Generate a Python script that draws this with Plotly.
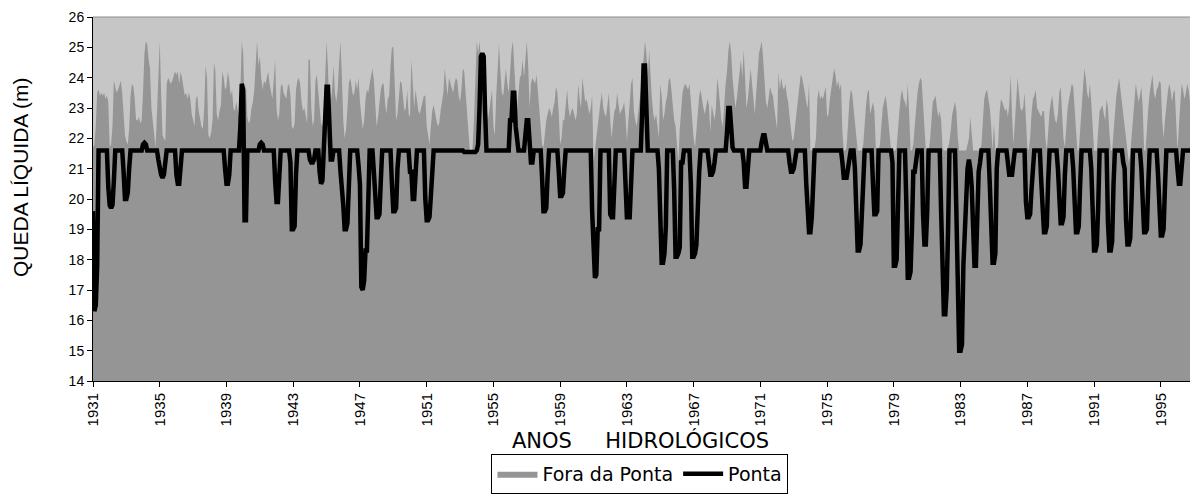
import plotly.graph_objects as go

# Monthly net head (m) by hydrological year, Jan..Dec rows, 1931 to Oct 1996
START_YEAR = 1931

FORA_DA_PONTA = [
    21.7, 21.8, 22.4, 23.5, 23.6, 23.4, 23.5, 23.4, 23.5, 23.3, 23.4, 23.2,  # 1931
    21.7, 21.8, 22.4, 23.9, 23.7, 23.5, 23.6, 23.8, 23.9, 23.5, 22.6, 22.1,  # 1932
    21.9, 21.8, 22.3, 23.4, 23.8, 23.7, 23.3, 22.6, 22.6, 22.7, 22.5, 22.6,  # 1933
    23.5, 24.8, 25.2, 25.1, 24.6, 24.3, 23.0, 22.5, 22.0, 21.7, 22.8, 24.0,  # 1934
    25.2, 23.5, 22.1, 22.0, 21.9, 23.8, 24.0, 23.9, 23.8, 23.9, 24.1, 24.2,  # 1935
    24.1, 24.2, 23.8, 24.2, 24.0, 23.6, 23.4, 23.5, 23.3, 23.5, 23.3, 22.8,  # 1936
    22.6, 22.4, 23.3, 23.4, 22.9, 22.6, 22.4, 22.3, 23.0, 24.4, 24.0, 22.1,  # 1937
    22.0, 22.2, 22.6, 24.5, 24.2, 22.8, 22.6, 22.9, 23.1, 24.2, 24.0, 23.6,  # 1938
    23.7, 24.2, 23.9, 23.4, 23.6, 23.0, 22.9, 23.2, 22.9, 22.7, 23.5, 25.2,  # 1939
    24.8, 23.0, 23.8, 22.7, 22.5, 22.6, 23.0, 23.2, 23.6, 24.6, 25.2, 24.4,  # 1940
    24.7, 24.0, 23.6, 23.9, 23.8, 24.0, 24.2, 23.8, 23.6, 23.3, 23.9, 24.6,  # 1941
    23.0, 22.6, 22.8, 23.7, 23.8, 23.5, 23.4, 23.3, 23.7, 23.8, 23.4, 22.4,  # 1942
    22.3, 22.5, 23.6, 23.9, 24.0, 23.8, 23.2, 22.9, 23.0, 22.8, 22.5, 24.6,  # 1943
    24.6, 23.0, 22.4, 22.6, 23.9, 24.1, 23.4, 23.0, 22.5, 22.4, 22.9, 24.2,  # 1944
    25.2, 24.3, 22.9, 23.2, 23.6, 24.4, 23.5, 23.2, 23.6, 24.5, 25.2, 24.0,  # 1945
    22.6, 22.0, 22.3, 23.0, 23.8, 24.0, 23.6, 23.4, 23.5, 23.9, 23.6, 24.0,  # 1946
    23.2, 22.6, 22.3, 22.6, 23.3, 23.6, 23.5, 23.8, 24.1, 24.3, 23.9, 23.0,  # 1947
    22.4, 22.7, 23.2, 23.6, 23.8, 23.8, 23.2, 22.8, 23.3, 23.4, 24.4, 25.0,  # 1948
    25.0, 23.5, 22.6, 22.8, 23.4, 23.9, 23.8, 23.2, 22.9, 23.0, 23.6, 22.8,  # 1949
    22.7, 24.6, 23.6, 23.0, 23.6, 23.2, 22.9, 22.8, 23.0, 23.2, 23.4, 23.4,  # 1950
    22.4, 22.1, 21.8, 22.4, 22.9, 23.1, 22.8, 22.6, 22.4, 22.5, 22.9, 23.2,  # 1951
    23.5, 24.3, 23.8, 23.4, 24.0, 23.8, 23.6, 23.5, 23.8, 24.0, 23.9, 23.4,  # 1952
    23.2, 23.6, 24.3, 24.2, 23.5, 22.8, 22.0, 21.6, 21.5, 21.7, 22.6, 24.0,  # 1953
    25.2, 24.8, 25.2, 24.6, 23.6, 23.0, 23.4, 23.0, 22.6, 22.9, 23.2, 23.6,  # 1954
    22.4, 22.1, 23.4, 24.5, 25.1, 24.2, 23.5, 23.4, 23.9, 24.3, 23.8, 23.5,  # 1955
    24.2, 24.9, 25.2, 24.3, 23.5, 23.0, 23.5, 24.0, 24.1, 24.6, 24.0, 24.8,  # 1956
    25.2, 24.4, 23.0, 23.8, 24.0, 23.9, 23.8, 24.1, 23.5, 23.0, 22.6, 21.8,  # 1957
    21.7, 22.2, 22.6, 22.8, 23.0, 22.9, 22.7, 23.0, 23.2, 23.7, 23.5, 22.8,  # 1958
    21.8, 22.0, 22.6, 22.6, 23.0, 23.6, 23.0, 22.7, 22.9, 23.0, 22.8, 22.6,  # 1959
    22.8, 23.8, 23.3, 23.0, 24.0, 23.6, 23.2, 23.3, 23.0, 22.8, 23.0, 23.4,  # 1960
    21.2, 21.6, 22.0, 22.6, 22.9, 23.2, 23.5, 23.0, 22.8, 22.7, 23.1, 23.5,  # 1961
    22.6, 22.0, 22.5, 22.9, 23.0, 23.5, 23.1, 22.8, 22.9, 23.0, 23.2, 22.7,  # 1962
    21.9, 22.6, 23.0, 23.8, 24.0, 22.9, 22.6, 22.4, 22.8, 23.3, 23.6, 24.0,  # 1963
    24.6, 25.2, 24.8, 24.0, 24.9, 23.9, 23.3, 22.8, 22.6, 22.8, 22.4, 22.0,  # 1964
    23.8, 23.4, 22.6, 22.8, 23.2, 23.4, 23.9, 24.0, 23.6, 23.0, 22.6, 22.4,  # 1965
    21.6, 21.2, 22.3, 23.0, 23.5, 23.7, 23.8, 23.7, 23.6, 23.8, 23.2, 22.4,  # 1966
    22.0, 21.7, 22.3, 22.8, 23.4, 23.6, 23.2, 23.0, 22.8, 23.0, 23.3, 23.1,  # 1967
    22.2, 23.1, 22.8, 22.6, 23.0, 24.0, 23.6, 23.0, 22.6, 22.4, 23.2, 23.8,  # 1968
    24.2, 24.9, 25.2, 24.8, 24.0, 23.4, 23.0, 23.3, 23.8, 24.3, 24.6, 24.0,  # 1969
    24.9, 24.0, 23.0, 23.3, 23.8, 24.3, 23.8, 23.3, 22.8, 23.5, 24.2, 24.8,  # 1970
    25.0, 25.2, 24.6, 24.0, 23.2, 23.0, 23.3, 23.7, 23.5, 23.4, 23.0, 22.6,  # 1971
    22.3, 24.2, 23.6, 24.0, 23.7, 23.6, 23.8, 23.4, 23.2, 22.7, 22.2, 21.9,  # 1972
    22.0, 22.4, 22.8, 23.3, 23.8, 24.1, 24.0, 23.8, 23.5, 23.2, 23.0, 23.8,  # 1973
    21.6, 21.6, 21.6, 21.7, 22.0, 23.3, 23.6, 23.3, 23.4, 23.3, 23.5, 23.7,  # 1974
    22.7, 22.8, 23.3, 23.6, 24.0, 24.3, 24.1, 23.7, 23.9, 23.6, 23.8, 22.2,  # 1975
    21.6, 21.6, 21.7, 22.5, 23.2, 23.6, 23.5, 23.0, 22.5, 22.0, 21.6, 21.6,  # 1976
    21.6, 21.6, 21.8, 22.6, 23.1, 23.5, 23.6, 22.8, 23.0, 23.2, 22.9, 21.7,  # 1977
    21.6, 21.6, 21.8, 22.6, 23.0, 23.2, 23.4, 23.1, 22.6, 22.0, 21.6, 21.6,  # 1978
    21.6, 21.6, 21.7, 22.4, 22.9, 23.4, 23.6, 23.3, 23.2, 23.0, 23.8, 22.8,  # 1979
    21.6, 21.6, 21.8, 22.4, 23.0, 23.5, 23.8, 24.0, 23.9, 23.2, 22.3, 21.6,  # 1980
    21.6, 21.6, 21.9, 22.5, 23.2, 23.3, 23.4, 23.0, 22.7, 22.9, 22.6, 21.7,  # 1981
    21.6, 21.6, 21.6, 21.7, 21.9, 22.3, 22.8, 23.0, 23.2, 22.9, 22.0, 21.6,  # 1982
    21.6, 21.6, 21.6, 21.6, 21.6, 21.8, 22.0, 22.7, 22.0, 21.6, 21.6, 21.6,  # 1983
    21.6, 21.6, 21.6, 21.8, 22.6, 23.3, 23.5, 23.6, 23.3, 23.0, 22.4, 21.6,  # 1984
    22.5, 21.6, 21.6, 21.8, 22.8, 23.3, 23.2, 23.0, 22.9, 23.0, 22.7, 23.1,  # 1985
    24.1, 22.8, 21.8, 22.5, 23.5, 24.0, 23.5, 23.0, 22.9, 23.0, 23.5, 22.6,  # 1986
    21.7, 21.6, 22.0, 22.8, 23.3, 23.4, 23.6, 23.0, 22.9, 22.8, 22.7, 22.9,  # 1987
    22.9, 22.0, 21.6, 22.2, 22.9, 23.2, 23.4, 22.9, 22.6, 22.5, 22.8, 23.5,  # 1988
    23.7, 22.8, 22.0, 21.7, 22.4, 23.0, 23.3, 23.6, 23.8, 23.7, 23.0, 22.2,  # 1989
    21.6, 21.6, 22.3, 23.0, 23.8, 24.3, 24.0, 23.5, 23.3, 23.8, 23.2, 22.4,  # 1990
    21.6, 21.6, 21.6, 22.3, 22.9, 23.0, 23.1, 22.8, 22.6, 23.3, 23.0, 22.2,  # 1991
    21.6, 21.6, 22.2, 22.9, 23.4, 23.7, 24.0, 23.6, 23.2, 22.8, 22.4, 21.8,  # 1992
    21.4, 21.2, 21.5, 22.0, 22.6, 23.2, 23.8, 23.4, 23.2, 23.4, 23.7, 23.0,  # 1993
    21.6, 21.6, 22.4, 23.0, 23.5, 23.9, 24.1, 23.5, 23.3, 23.6, 23.7, 23.9,  # 1994
    23.8, 22.6, 22.0, 22.6, 23.2, 23.5, 23.8, 23.6, 23.2, 23.5, 23.6, 22.6,  # 1995
    21.6, 22.4, 23.2, 23.8, 23.6, 23.3, 23.5, 23.8, 23.6, 23.2,              # 1996
]

PONTA = [
    19.6, 16.3, 16.5, 17.8, 21.6, 21.6, 21.6, 21.6, 21.6, 21.6, 21.6, 20.4,  # 1931
    19.8, 19.7, 19.8, 20.6, 21.6, 21.6, 21.6, 21.6, 21.6, 21.6, 20.9, 20.0,  # 1932
    20.0, 20.2, 21.0, 21.6, 21.6, 21.6, 21.6, 21.6, 21.6, 21.6, 21.6, 21.6,  # 1933
    21.8, 21.85, 21.8, 21.6, 21.6, 21.6, 21.6, 21.6, 21.6, 21.6, 21.6, 21.3,  # 1934
    21.0, 20.8, 20.7, 20.8, 21.2, 21.6, 21.6, 21.6, 21.6, 21.6, 21.6, 21.6,  # 1935
    20.8, 20.5, 20.5, 21.0, 21.6, 21.6, 21.6, 21.6, 21.6, 21.6, 21.6, 21.6,  # 1936
    21.6, 21.6, 21.6, 21.6, 21.6, 21.6, 21.6, 21.6, 21.6, 21.6, 21.6, 21.6,  # 1937
    21.6, 21.6, 21.6, 21.6, 21.6, 21.6, 21.6, 21.6, 21.6, 21.6, 21.6, 21.0,  # 1938
    20.5, 20.5, 20.8, 21.6, 21.6, 21.6, 21.6, 21.6, 21.6, 21.6, 22.4, 23.8,  # 1939
    23.6, 19.3, 19.3, 21.6, 21.6, 21.6, 21.6, 21.6, 21.6, 21.6, 21.6, 21.6,  # 1940
    21.8, 21.85, 21.8, 21.6, 21.6, 21.6, 21.6, 21.6, 21.6, 21.6, 21.6, 20.6,  # 1941
    19.9, 19.9, 20.9, 21.6, 21.6, 21.6, 21.6, 21.6, 21.6, 21.6, 21.2, 19.0,  # 1942
    19.0, 19.1, 20.8, 21.6, 21.6, 21.6, 21.6, 21.6, 21.6, 21.6, 21.6, 21.6,  # 1943
    21.3, 21.2, 21.2, 21.3, 21.6, 21.6, 21.6, 20.9, 20.5, 20.6, 21.6, 22.6,  # 1944
    23.7, 23.7, 22.6, 21.3, 21.3, 21.6, 21.6, 21.6, 21.6, 21.6, 20.9, 20.5,  # 1945
    19.8, 19.0, 19.0, 19.2, 20.5, 21.6, 21.6, 21.6, 21.6, 21.6, 21.6, 21.1,  # 1946
    20.5, 17.1, 17.0, 17.3, 18.3, 18.3, 20.5, 21.6, 21.6, 21.6, 20.9, 20.1,  # 1947
    19.4, 19.4, 19.5, 20.6, 21.6, 21.6, 21.6, 21.6, 21.6, 21.6, 21.6, 20.5,  # 1948
    19.6, 19.6, 19.7, 21.0, 21.6, 21.6, 21.6, 21.6, 21.6, 21.6, 21.6, 21.6,  # 1949
    20.9, 20.9, 20.0, 20.0, 20.8, 21.6, 21.6, 21.6, 21.6, 21.6, 21.6, 20.0,  # 1950
    19.3, 19.3, 19.4, 20.1, 21.0, 21.6, 21.6, 21.6, 21.6, 21.6, 21.6, 21.6,  # 1951
    21.6, 21.6, 21.6, 21.6, 21.6, 21.6, 21.6, 21.6, 21.6, 21.6, 21.6, 21.6,  # 1952
    21.6, 21.6, 21.6, 21.55, 21.55, 21.55, 21.55, 21.55, 21.55, 21.55, 21.55, 21.55,  # 1953
    21.6, 21.8, 23.0, 24.7, 24.8, 24.7, 22.9, 21.6, 21.6, 21.6, 21.6, 21.6,  # 1954
    21.6, 21.6, 21.6, 21.6, 21.6, 21.6, 21.6, 21.6, 21.6, 21.6, 21.6, 21.6,  # 1955
    22.6, 22.6, 23.5, 23.5, 22.4, 21.8, 21.6, 21.6, 21.6, 21.6, 21.6, 22.1,  # 1956
    22.6, 22.6, 21.9, 21.2, 21.2, 21.6, 21.6, 21.6, 21.6, 21.6, 21.6, 20.7,  # 1957
    19.6, 19.6, 19.7, 20.8, 21.6, 21.6, 21.6, 21.6, 21.6, 21.6, 21.6, 20.9,  # 1958
    20.1, 20.1, 20.2, 21.0, 21.6, 21.6, 21.6, 21.6, 21.6, 21.6, 21.6, 21.6,  # 1959
    21.6, 21.6, 21.6, 21.6, 21.6, 21.6, 21.6, 21.6, 21.6, 21.6, 21.6, 19.6,  # 1960
    17.8, 17.4, 17.5, 19.0, 19.0, 21.6, 21.6, 21.6, 21.6, 21.6, 21.6, 21.6,  # 1961
    19.5, 19.4, 19.4, 20.6, 21.6, 21.6, 21.6, 21.6, 21.6, 21.6, 21.6, 20.5,  # 1962
    19.4, 19.4, 19.4, 20.5, 21.6, 21.6, 21.6, 21.6, 21.6, 21.6, 21.6, 22.9,  # 1963
    24.4, 24.4, 23.0, 21.6, 21.6, 21.6, 21.6, 21.6, 21.6, 21.6, 21.6, 21.0,  # 1964
    19.1, 17.9, 17.9, 18.2, 19.1, 21.6, 21.6, 21.6, 21.6, 21.6, 20.3, 18.1,  # 1965
    18.1, 18.2, 18.4, 21.2, 21.2, 21.6, 21.6, 21.6, 21.6, 21.6, 20.5, 18.1,  # 1966
    18.1, 18.2, 18.5, 20.4, 20.9, 21.6, 21.6, 21.6, 21.6, 21.6, 21.6, 21.2,  # 1967
    20.8, 20.8, 20.9, 21.2, 21.6, 21.6, 21.6, 21.6, 21.6, 21.6, 21.6, 21.6,  # 1968
    22.2, 23.0, 23.0, 22.2, 21.7, 21.6, 21.6, 21.6, 21.6, 21.6, 21.6, 21.6,  # 1969
    21.2, 20.4, 20.4, 21.0, 21.6, 21.6, 21.6, 21.6, 21.6, 21.6, 21.6, 21.6,  # 1970
    21.6, 21.9, 22.1, 22.1, 21.8, 21.6, 21.6, 21.6, 21.6, 21.6, 21.6, 21.6,  # 1971
    21.6, 21.6, 21.6, 21.6, 21.6, 21.6, 21.6, 21.6, 21.6, 21.2, 20.9, 20.9,  # 1972
    21.0, 21.3, 21.6, 21.6, 21.6, 21.6, 21.6, 21.6, 21.6, 20.5, 19.5, 18.9,  # 1973
    18.9, 19.4, 20.5, 21.6, 21.6, 21.6, 21.6, 21.6, 21.6, 21.6, 21.6, 21.6,  # 1974
    21.6, 21.6, 21.6, 21.6, 21.6, 21.6, 21.6, 21.6, 21.6, 21.6, 21.6, 21.2,  # 1975
    20.7, 20.7, 20.7, 21.0, 21.3, 21.6, 21.6, 21.6, 21.0, 19.0, 18.3, 18.3,  # 1976
    18.5, 19.5, 21.0, 21.6, 21.6, 21.6, 21.6, 21.6, 21.6, 20.5, 19.5, 19.5,  # 1977
    19.6, 21.6, 21.6, 21.6, 21.6, 21.6, 21.6, 21.6, 21.6, 21.6, 21.6, 21.2,  # 1978
    17.8, 17.8, 18.0, 19.8, 21.6, 21.6, 21.6, 21.6, 21.6, 19.8, 17.4, 17.4,  # 1979
    17.6, 19.0, 20.9, 20.9, 21.2, 21.6, 21.6, 21.6, 21.6, 19.5, 18.5, 18.5,  # 1980
    19.6, 21.6, 21.6, 21.6, 21.6, 21.6, 21.6, 21.6, 21.6, 21.6, 19.6, 17.5,  # 1981
    16.2, 16.2, 17.0, 19.0, 21.6, 21.6, 21.6, 21.6, 21.6, 19.5, 17.8, 15.0,  # 1982
    15.0, 15.2, 17.8, 18.9, 20.2, 21.0, 21.3, 21.0, 20.4, 19.0, 17.8, 17.8,  # 1983
    19.5, 20.9, 21.2, 21.6, 21.6, 21.6, 21.6, 21.6, 21.6, 20.5, 19.0, 17.9,  # 1984
    17.9, 18.2, 21.0, 21.6, 21.6, 21.6, 21.6, 21.6, 21.6, 21.6, 21.2, 20.8,  # 1985
    20.8, 20.8, 21.2, 21.6, 21.6, 21.6, 21.6, 21.6, 21.6, 21.6, 21.6, 19.9,  # 1986
    19.4, 19.4, 19.5, 20.3, 21.3, 21.6, 21.6, 21.6, 21.6, 21.6, 20.6, 19.3,  # 1987
    18.9, 18.9, 19.1, 20.6, 21.6, 21.6, 21.6, 21.6, 21.6, 21.6, 21.0, 19.6,  # 1988
    19.2, 19.2, 19.4, 20.8, 21.6, 21.6, 21.6, 21.6, 21.6, 21.0, 20.1, 18.9,  # 1989
    18.9, 19.1, 20.5, 21.6, 21.6, 21.6, 21.6, 21.6, 21.6, 21.6, 21.0, 19.9,  # 1990
    18.3, 18.3, 18.5, 19.8, 21.6, 21.6, 21.6, 21.6, 21.6, 21.6, 19.2, 18.3,  # 1991
    18.3, 18.6, 20.5, 21.6, 21.6, 21.6, 21.6, 21.6, 21.6, 21.2, 21.0, 19.3,  # 1992
    18.5, 18.5, 18.7, 20.0, 21.6, 21.6, 21.6, 21.6, 21.6, 21.6, 21.0, 19.6,  # 1993
    18.9, 18.9, 19.0, 20.5, 21.6, 21.6, 21.6, 21.6, 21.6, 21.6, 20.8, 19.5,  # 1994
    18.8, 18.8, 19.0, 20.4, 21.6, 21.6, 21.6, 21.6, 21.6, 21.6, 21.6, 21.6,  # 1995
    21.0, 20.5, 20.5, 21.0, 21.6, 21.6, 21.6, 21.6, 21.6, 21.6,              # 1996
]

YEAR_TICKS = list(range(1931, 1996, 4))
Y_TICKS = list(range(14, 27))

# decimal-year position of every month
x = [START_YEAR + i / 12 for i in range(len(PONTA))]

fig = go.Figure()
fig.add_trace(go.Scatter(
    x=x, y=FORA_DA_PONTA, name="Fora da Ponta", mode="lines",
    fill="tozeroy", fillcolor="#959595", line=dict(width=0, color="#959595"),
))
fig.add_trace(go.Scatter(
    x=x, y=PONTA, name="Ponta", mode="lines",
    line=dict(width=4.5, color="#000000"),
))

sans = "Liberation Sans, Arial, sans-serif"
wide = "DejaVu Sans, sans-serif"

fig.update_layout(
    width=1190, height=495,
    margin=dict(l=93, r=0, t=17, b=114, autoexpand=False),
    paper_bgcolor="#ffffff",
    plot_bgcolor="#c6c6c6",
    showlegend=True,
    legend=dict(
        orientation="h", x=0.4986, xanchor="center",
        y=(381 - 494) / 364, yanchor="bottom",
        bordercolor="#000000", borderwidth=1, bgcolor="#ffffff",
        font=dict(family=wide, size=19, color="#000000"),
        itemwidth=40, tracegroupgap=0,
    ),
    xaxis=dict(
        range=[START_YEAR, START_YEAR + (len(PONTA) - 1) / 12],
        tickvals=YEAR_TICKS, ticktext=[str(v) for v in YEAR_TICKS],
        tickangle=-90, ticks="outside", ticklen=5, tickcolor="#000000",
        showline=True, linecolor="#000000", linewidth=1,
        showgrid=False, zeroline=False,
        tickfont=dict(family=sans, size=15, color="#000000"),
    ),
    yaxis=dict(
        range=[14, 26], tickvals=Y_TICKS,
        ticks="outside", ticklen=5, tickcolor="#000000",
        showline=True, linecolor="#000000", linewidth=1,
        showgrid=False, zeroline=False,
        tickfont=dict(family=sans, size=14, color="#000000"),
    ),
    annotations=[
        dict(
            text="QUEDA LÍQUIDA (m)", textangle=-90,
            xref="paper", yref="paper", x=(20 - 93) / 1097, y=(381 - 177) / 364,
            xanchor="center", yanchor="middle", showarrow=False,
            font=dict(family=sans, size=21, color="#000000"),
        ),
        dict(
            text="ANOS\u00a0\u00a0\u00a0\u00a0\u00a0HIDROLÓGICOS",
            xref="paper", yref="paper", x=(640 - 93) / 1097, y=(381 - 440) / 364,
            xanchor="center", yanchor="middle", showarrow=False,
            font=dict(family=wide, size=21, color="#000000"),
        ),
    ],
    shapes=[
        dict(type="line", xref="paper", yref="paper", x0=0, x1=1, y0=1, y1=1,
             line=dict(color="#8c8c8c", width=1)),
    ],
)

fig.write_html("out.html")
